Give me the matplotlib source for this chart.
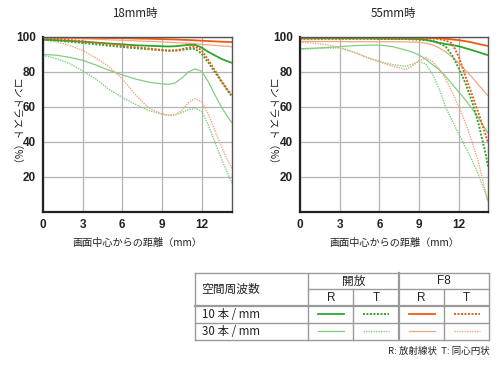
import matplotlib
matplotlib.use("Agg")
import matplotlib.pyplot as plt
from matplotlib.lines import Line2D

plt.rcParams['font.family'] = ['Noto Sans CJK JP', 'DejaVu Sans']

# ---------------- data ----------------
titles = ["18mm時", "55mm時"]
xticks = [0, 3, 6, 9, 12]
yticks = [20, 40, 60, 80, 100]
ylabel = "コントラスト（%）"
xlabel = "画面中心からの距離（mm）"

x18 = [0, 1, 2, 3, 4, 5, 6, 7, 8, 9, 9.5, 10, 10.5, 11, 11.5, 12, 12.5, 13, 13.5, 14, 14.3]
open10R_18 = [98.5, 98.2, 97.8, 97.3, 96.8, 96.3, 95.8, 95.3, 95.0, 94.7, 94.6, 94.7, 95.1, 95.5, 95.5, 94.0, 91.5, 89.5, 87.5, 86.0, 85.2]
open10T_18 = [98.5, 98.0, 97.3, 96.6, 95.8, 95.0, 94.3, 93.6, 93.0, 92.4, 92.2, 92.2, 92.6, 93.2, 93.2, 90.5, 85.5, 80.0, 74.5, 69.0, 66.0]
f810R_18 = [99.8, 99.8, 99.7, 99.6, 99.5, 99.4, 99.3, 99.1, 99.0, 98.8, 98.7, 98.6, 98.4, 98.3, 98.1, 97.9, 97.7, 97.5, 97.3, 97.2, 97.1]
f810T_18 = [99.5, 99.0, 98.3, 97.6, 96.7, 95.8, 95.0, 94.2, 93.4, 92.6, 92.2, 92.3, 93.0, 94.0, 94.5, 92.5, 87.0, 81.0, 75.0, 69.5, 67.0]
open30R_18 = [90.0, 89.6, 88.4, 86.7, 84.0, 81.0, 78.3, 76.0, 74.2, 73.2, 73.0, 73.8, 76.5, 80.0, 81.8, 80.5, 74.5, 67.0, 60.0, 54.0, 51.0]
open30T_18 = [89.5, 87.7, 84.8, 80.6, 76.0, 70.0, 65.5, 61.5, 58.0, 56.0, 55.3, 55.5, 56.8, 58.5, 59.3, 57.5, 50.0, 40.0, 30.5, 21.5, 16.5]
f830R_18 = [99.5, 99.4, 99.2, 99.0, 98.7, 98.4, 98.1, 97.8, 97.5, 97.2, 97.0, 96.8, 96.6, 96.4, 96.1, 95.8, 95.5, 95.2, 94.9, 94.6, 94.4]
f830T_18 = [98.5, 97.2, 95.2, 92.4, 88.0, 83.0, 76.0, 67.0, 59.5, 56.0, 55.2, 55.5, 58.0, 62.5, 64.8, 63.0, 56.0, 46.5, 37.5, 29.0, 25.0]

x55 = [0, 1, 2, 3, 4, 5, 6, 7, 8, 8.5, 9, 9.5, 10, 10.5, 11, 11.5, 12, 12.5, 13, 13.5, 14, 14.2]
open10R_55 = [99.2, 99.2, 99.2, 99.2, 99.2, 99.2, 99.1, 99.0, 99.0, 98.9, 98.8, 98.4, 97.6, 96.7, 96.0, 95.3, 94.7, 93.6, 92.5, 91.3, 90.1, 89.6]
open10T_55 = [99.0, 99.0, 99.0, 99.0, 99.0, 99.0, 98.9, 98.9, 98.8, 98.6, 98.4, 98.2, 97.8, 96.5, 94.5, 89.5, 82.0, 73.5, 63.0, 50.0, 34.0, 26.0]
f810R_55 = [99.7, 99.7, 99.7, 99.7, 99.7, 99.7, 99.7, 99.7, 99.6, 99.6, 99.6, 99.5, 99.4, 99.3, 99.0, 98.6, 98.2, 97.6, 96.9, 96.0, 95.2, 94.9]
f810T_55 = [99.6, 99.6, 99.6, 99.6, 99.6, 99.5, 99.5, 99.4, 99.4, 99.3, 99.3, 99.2, 99.2, 98.8, 98.0, 96.3, 88.5, 77.5, 67.0, 56.0, 44.5, 39.5]
open30R_55 = [93.3, 93.6, 94.0, 94.5, 95.0, 95.3, 95.4, 94.5, 92.5, 91.3, 89.7, 87.3, 84.3, 81.5, 77.5, 73.0, 68.5, 64.0, 59.0, 53.5, 47.5, 45.0]
open30T_55 = [93.0, 93.3, 93.7, 93.8, 91.5, 88.5, 86.0, 84.2, 83.3, 84.5, 86.0, 84.5, 79.0, 70.5, 60.0, 52.0, 44.5, 37.0, 29.5, 21.0, 11.0, 6.0]
f830R_55 = [97.5, 97.5, 97.4, 97.4, 97.3, 97.3, 97.3, 97.3, 97.2, 97.1, 97.0, 96.5, 95.5, 93.8, 91.5, 88.5, 85.0, 81.0, 77.0, 72.5, 68.0, 66.5]
f830T_55 = [97.0, 96.6, 95.6, 94.0, 91.5, 88.5, 85.8, 83.3, 81.5, 83.5, 86.5, 88.0, 86.0, 82.0, 76.0, 68.5, 60.0, 51.0, 40.0, 28.0, 12.0, 6.0]

xmax = [14.3, 14.2]

# table text
hdr_freq = "空間周波数"
hdr_groups = ["開放", "F8"]
hdr_dirs = ["R", "T", "R", "T"]
row_labels = ["10 本 / mm", "30 本 / mm"]
footnote = "R: 放射線状  T: 同心円状"

# ---------------- styles ----------------
g10, g30 = '#2ea52e', '#80cf80'
o10, o30 = '#f05a14', '#f6a67f'
dot = (0, (1, 0.8))
styles = {
    'open10R': dict(color=g10, lw=1.3, ls='-'),
    'open10T': dict(color=g10, lw=1.4, ls=dot),
    'f810R': dict(color=o10, lw=1.3, ls='-'),
    'f810T': dict(color=o10, lw=1.4, ls=dot),
    'open30R': dict(color=g30, lw=0.9, ls='-'),
    'open30T': dict(color=g30, lw=1.0, ls=dot),
    'f830R': dict(color=o30, lw=0.9, ls='-'),
    'f830T': dict(color=o30, lw=1.0, ls=dot),
}

panels = [
    (x18, {'open30T': open30T_18, 'open30R': open30R_18, 'f830T': f830T_18, 'f830R': f830R_18,
           'open10T': open10T_18, 'open10R': open10R_18, 'f810T': f810T_18, 'f810R': f810R_18}),
    (x55, {'open30T': open30T_55, 'open30R': open30R_55, 'f830T': f830T_55, 'f830R': f830R_55,
           'open10T': open10T_55, 'open10R': open10R_55, 'f810T': f810T_55, 'f810R': f810R_55}),
]

fig = plt.figure(figsize=(5, 3.65), dpi=100)
W, H = 500, 365
rects = [[43 / W, 1 - 212 / H, 189 / W, 175 / H], [300 / W, 1 - 212 / H, 188 / W, 175 / H]]
title_x = [135, 393]
ylab_x = [15, 271]

for i, (xs, series) in enumerate(panels):
    ax = fig.add_axes(rects[i])
    for k, ys in series.items():
        ax.plot(xs, ys, solid_capstyle='butt', dash_capstyle='butt', **styles[k])
    ax.set_xlim(0, xmax[i])
    ax.set_ylim(0, 100)
    ax.set_xticks(xticks)
    ax.set_yticks(yticks)
    ax.grid(True, color='#b4b4b4', lw=0.9)
    ax.set_axisbelow(True)
    ax.tick_params(length=0, pad=5)
    for lab in ax.get_xticklabels() + ax.get_yticklabels():
        lab.set_fontfamily('Liberation Sans')
        lab.set_fontweight('bold')
        lab.set_fontsize(8.5)
        lab.set_color('#222222')
    for s in ['left', 'bottom']:
        ax.spines[s].set_linewidth(1.6)
        ax.spines[s].set_color('#222222')
    for s in ['top', 'right']:
        ax.spines[s].set_linewidth(1.0)
        ax.spines[s].set_color('#555555')
    ax.set_ylabel(ylabel, rotation=270, fontsize=7.5, color='#222222', va='center', ha='center')
    ax.yaxis.set_label_coords((ylab_x[i] - rects[i][0] * W) / (rects[i][2] * W), 0.5)
    fig.text(title_x[i] / W, 1 - 13 / H, titles[i], ha='center', va='center', fontsize=8.3, color='#222222')
    fig.text((rects[i][0] + rects[i][2] / 2), 1 - 243 / H, xlabel, ha='center', va='center',
             fontsize=7.3, color='#222222')

# ---------------- table ----------------
tab = fig.add_axes([0, 0, 1, 1])
tab.set_xlim(0, W)
tab.set_ylim(H, 0)
tab.axis('off')
tab.patch.set_visible(False)

L, C1, C2, C3, C4, R = 194.7, 308.3, 353.3, 399.0, 444.3, 489.3
T, Y1, Y2, Y3, B = 272.7, 289.3, 306.0, 322.7, 340.0
gc = '#9a9a9a'
for y, x0, lw in [(T, L, 1.0), (Y1, C1, 1.0), (Y2, L, 1.6), (Y3, L, 1.0), (B, L, 1.0)]:
    tab.plot([x0, R], [y, y], color=gc, lw=lw)
for x, y0, lw in [(L, T, 1.0), (C1, T, 1.0), (C2, Y1, 1.0), (C3, T, 1.6), (C4, Y1, 1.0), (R, T, 1.0)]:
    tab.plot([x, x], [y0, B], color=gc, lw=lw)

txt = '#222222'
tab.text(201.5, (T + Y2) / 2, hdr_freq, ha='left', va='center', fontsize=8.5, color=txt)
tab.text((C1 + C3) / 2, (T + Y1) / 2, hdr_groups[0], ha='center', va='center', fontsize=8.5, color=txt)
tab.text((C3 + R) / 2, (T + Y1) / 2, hdr_groups[1], ha='center', va='center', fontsize=8.5, color=txt,
         family='Liberation Sans')
cols = [C1, C2, C3, C4, R]
for j, d in enumerate(hdr_dirs):
    tab.text((cols[j] + cols[j + 1]) / 2, (Y1 + Y2) / 2, d, ha='center', va='center', fontsize=8.5,
             color=txt, family='Liberation Sans')
rows_y = [(Y2 + Y3) / 2, (Y3 + B) / 2]
for r, lab in enumerate(row_labels):
    tab.text(201.5, rows_y[r], lab, ha='left', va='center', fontsize=8.3, color=txt)
legend_keys = [['open10R', 'open10T', 'f810R', 'f810T'], ['open30R', 'open30T', 'f830R', 'f830T']]
for r in range(2):
    for j in range(4):
        cx = (cols[j] + cols[j + 1]) / 2
        st = dict(styles[legend_keys[r][j]])
        tab.add_line(Line2D([cx - 13, cx + 13], [rows_y[r], rows_y[r]], **st))
tab.text(R, 351, footnote, ha='right', va='center', fontsize=6.8, color=txt)

fig.savefig('out.png', dpi=100)
